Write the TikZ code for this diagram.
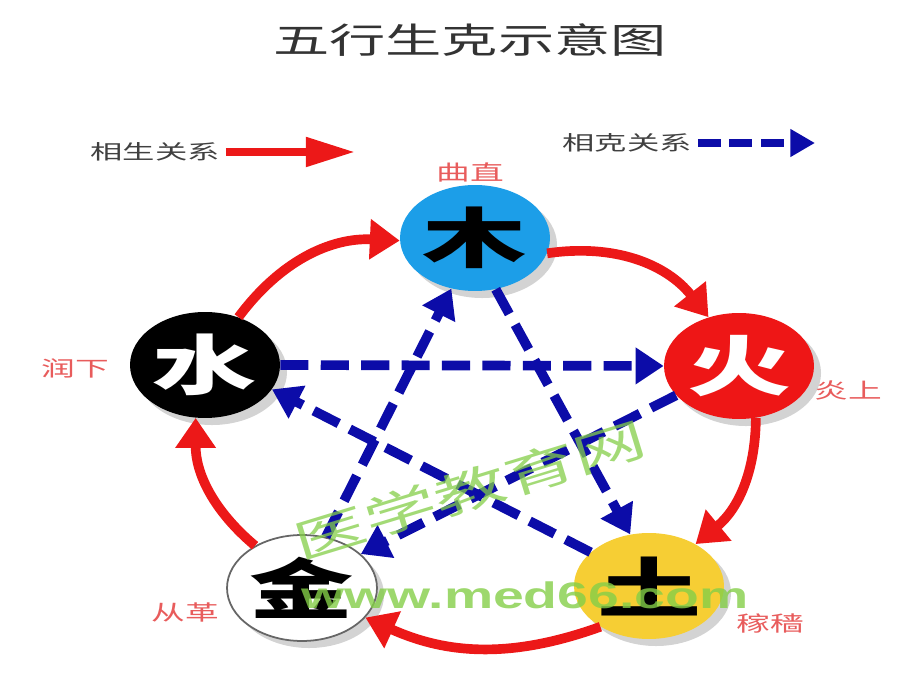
\documentclass[tikz,border=0pt]{standalone}
\usepackage{fontspec}
\newfontfamily\cjk[FakeStretch=1.6]{Noto Sans CJK SC}
\newfontfamily\wmfont[FakeStretch=1.5]{Liberation Sans}
\usetikzlibrary{shapes.geometric,arrows.meta,shadows}
\definecolor{mublue}{RGB}{28,158,232}
\definecolor{huored}{RGB}{238,22,22}
\definecolor{tuyellow}{RGB}{246,206,52}
\definecolor{shengred}{RGB}{236,24,24}
\definecolor{keblue}{RGB}{12,12,168}
\definecolor{tagred}{RGB}{232,92,92}
\definecolor{wmgreen}{RGB}{132,206,72}
\tikzset{
  xing/.style={ellipse, minimum width=3cm, minimum height=2.12cm, inner sep=0pt,
    drop shadow={shadow xshift=4pt, shadow yshift=-4pt, opacity=0.35},
    font=\cjk\bfseries\fontsize{37}{37}\selectfont},
  sheng/.style={shengred, line width=5.5pt, -{Triangle[length=17pt,width=22pt]}},
  ke/.style={keblue, line width=5.5pt, dash pattern=on 16pt off 7pt,
    -{Triangle[length=16pt,width=20pt]}},
  tag/.style={text=tagred, font=\cjk\fontsize{12}{12}\selectfont},
  legend/.style={text=black!75, font=\cjk\fontsize{11.5}{11.5}\selectfont}
}
\begin{document}
\begin{tikzpicture}[x=0.02cm,y=0.02cm]
\useasboundingbox (0,0) rectangle (920,690);
% title and legend
\node[text=black!80, font=\cjk\fontsize{20}{20}\selectfont] (title) at (470,650) {五行生克示意图};
\node[legend] (shengtxt) at (155,538) {相生关系};
\coordinate (shengend) at (355,538);
\draw[shengred, line width=4.5pt, -{Triangle[length=28pt,width=16pt]}] (shengtxt.east) -- (shengend);
\node[legend] (ketxt) at (627,547) {相克关系};
\coordinate (keend) at (815,547);
\draw[keblue, line width=4.5pt, dash pattern=on 13pt off 5pt, -{Triangle[length=14pt,width=15pt]}] (ketxt.east) -- (keend);
% five phases
\node[xing, fill=mublue] (mu) at (475,452) {木};
\node[xing, fill=huored, text=white] (huo) at (739,324) {火};
\node[xing, fill=tuyellow] (tu) at (649,104) {土};
\node[xing, fill=white, draw=black!60, line width=1pt] (jin) at (302,102) {金};
\node[xing, fill=black, text=white] (shui) at (205,325) {水};
\node[tag] (muq) at (470,518) {曲直};
\node[tag] (huoq) at (848,300) {炎上};
\node[tag] (tuq) at (770,67) {稼穑};
\node[tag] (jinq) at (185,78) {从革};
\node[tag] (shuiq) at (75,322) {润下};
% sheng cycle
\draw[sheng] (mu.-12) to[bend left=30] (huo.122);
\draw[sheng] (huo.-72) to[bend left=25] (tu.42);
\draw[sheng] (tu.-140) to[bend left=22] (jin.-25);
\draw[sheng] (jin.138) to[bend left=25] (shui.-100);
\draw[sheng] (shui.55) to[bend left=28] (mu.182);
% ke cycle
\draw[ke] (mu.-68) -- (tu.110);
\draw[ke] (tu.150) -- (shui.-20);
\draw[ke] (shui.0) -- (huo.180);
\draw[ke] (huo.-155) -- (jin.30);
\draw[ke] (jin.65) -- (mu.-115);
% watermark
\node[text=wmgreen, opacity=0.75, rotate=17, font=\cjk\fontsize{26}{26}\selectfont] (wmcn) at (470,200) {医学教育网};
\node[text=wmgreen, opacity=0.8, font=\wmfont\bfseries\fontsize{21}{21}\selectfont] (wmurl) at (525,95) {www.med66.com};
\end{tikzpicture}
\end{document}
